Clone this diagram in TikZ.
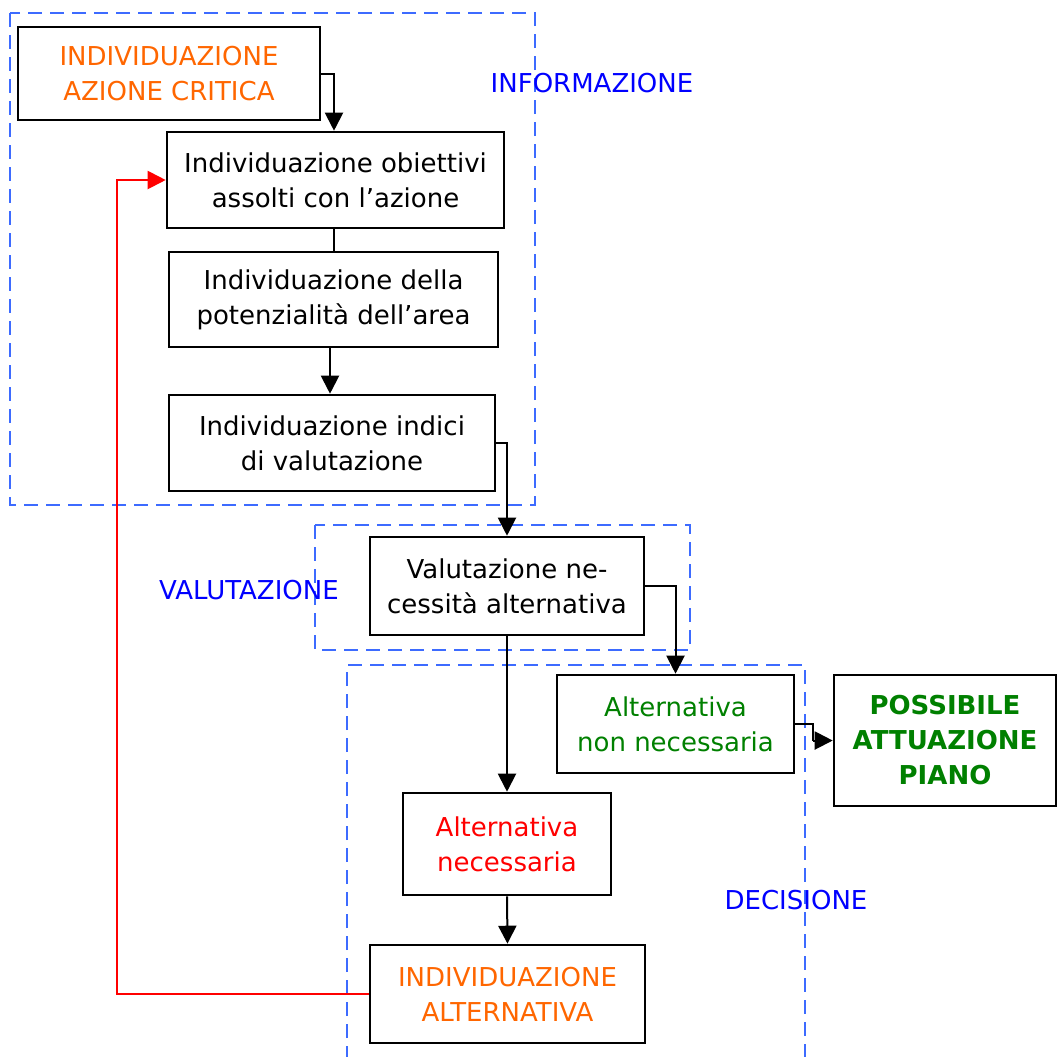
\documentclass[tikz,border=0pt]{standalone}
\usepackage{fontspec}
\setmainfont{DejaVu Sans}
\usepackage{tikz}
\usetikzlibrary{arrows.meta, calc}

\definecolor{frameblue}{HTML}{3D6BFF}
\definecolor{critorange}{HTML}{FF6600}
\definecolor{okgreen}{HTML}{008000}

\begin{document}
\begin{tikzpicture}[
            x=0.5pt,
            y=-0.5pt,
            >={Triangle[length=9pt,width=9pt]},
            font=\fontsize{13pt}{17.5pt}\selectfont,
            blk/.style={draw, line width=1.3pt, align=center, inner sep=0pt},
            link/.style={->, line width=1pt},
            frame/.style={frameblue, line width=1pt, dash pattern=on 7pt off 4pt},
            phase/.style={text=blue}
        ]

            % --- Canvas ---
            \useasboundingbox (0,0) rectangle (1058,1056);

            % --- Phase frames ---
            \draw[frame] (10,13) rectangle (535,505);
            \draw[frame] (315,525) rectangle (690,650);
            \draw[frame] (347,1060) |- (805,665) -- (805,1060);

            % --- Phase labels ---
            \node[phase] (linfo) at (592,83) {INFORMAZIONE};
            \node[phase] (lval)  at (249,590) {VALUTAZIONE};
            \node[phase] (ldec)  at (796,900) {DECISIONE};

            % --- Information steps ---
            \node[blk, text=critorange, minimum width=151pt, minimum height=46.5pt]
                (crit) at (169,73.5) {INDIVIDUAZIONE\\AZIONE CRITICA};
            \node[blk, minimum width=168.5pt, minimum height=48pt]
                (obj) at (335.5,180) {Individuazione obiettivi\\assolti con l’azione};
            \node[blk, minimum width=164.5pt, minimum height=47.5pt]
                (pot) at (333.5,299.5) {Individuazione della\\potenzialità dell’area};
            \node[blk, minimum width=163pt, minimum height=48pt]
                (ind) at (332,443) {Individuazione indici\\di valutazione};

            % --- Evaluation and decision ---
            \node[blk, minimum width=137pt, minimum height=49pt]
                (val) at (507,586) {Valutazione ne-\\cessità alternativa};
            \node[blk, text=okgreen, minimum width=118.5pt, minimum height=49pt]
                (nonnec) at (675.5,724) {Alternativa\\non necessaria};
            \node[blk, text=okgreen, font=\fontsize{13pt}{17.5pt}\selectfont\bfseries,
                  minimum width=111pt, minimum height=65.5pt]
                (piano) at (945,740.5) {POSSIBILE\\ATTUAZIONE\\PIANO};
            \node[blk, text=red, minimum width=104pt, minimum height=51pt]
                (nec) at (507,844) {Alternativa\\necessaria};
            \node[blk, text=critorange, minimum width=137.5pt, minimum height=49pt]
                (alt) at (507.5,994) {INDIVIDUAZIONE\\ALTERNATIVA};

            % --- Helper points ---
            \coordinate (kink) at (813,740.5);
            \coordinate (back) at (117,600);

            % --- Connectors ---
            \draw[link] (crit.east) -| ($(obj.north)+(-1.5,0)$);
            \draw[line width=1pt] ($(obj.south)+(-1.5,0)$) -- ($(pot.north)+(0.5,0)$);
            \draw[link] ($(pot.south)+(-3.5,0)$) -- ($(ind.north)+(-2,0)$);
            \draw[link] (ind.east) -| (val.north);
            \draw[link] (val.east) -| (nonnec.north);
            \draw[line width=1pt] (nonnec.east) -| (kink);
            \draw[link] (kink) -- (piano.west);
            \draw[link] (val.south) -- (nec.north);
            \draw[link] (nec.south) -- (alt.north);

            % --- Feedback loop ---
            \draw[link, red] (alt.west) -| (back) |- (obj.west);

\end{tikzpicture}
\end{document}
